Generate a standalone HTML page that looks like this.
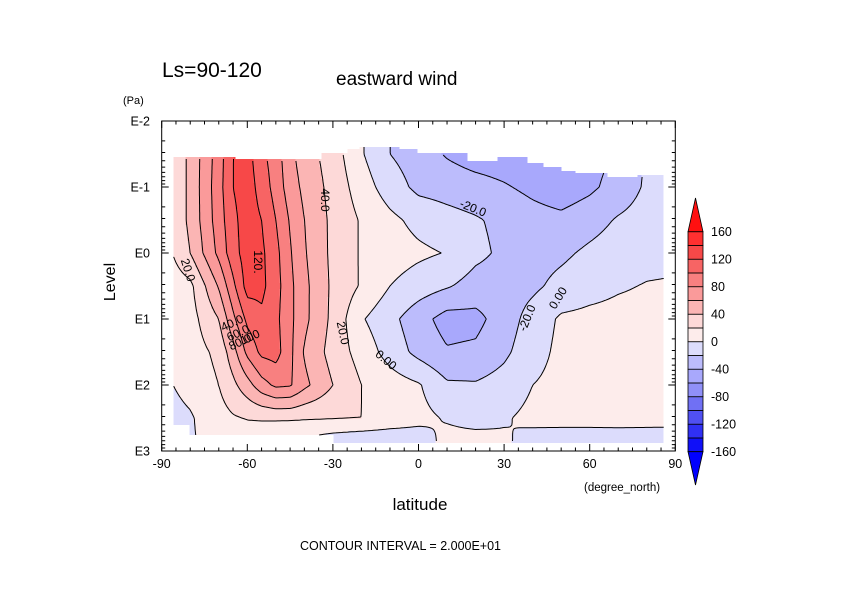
<!DOCTYPE html>
<html><head><meta charset="utf-8"><style>
html,body{margin:0;padding:0;background:#fff}
svg{display:block}
text{font-family:"Liberation Sans",sans-serif;fill:#000}
</style></head><body>
<svg id="chart" width="842" height="595" viewBox="0 0 842 595">
<rect width="842" height="595" fill="#fff"/>
<g id="fills"></g>
<g id="lines"></g>
<g id="clabels"></g>
<g id="axes"></g>
<g id="cbar"></g>
<text x="162" y="77" font-size="21">Ls=90-120</text>
<text x="336" y="85" font-size="19">eastward wind</text>
<text x="123" y="104" font-size="11">(Pa)</text>
<text x="0" y="0" font-size="16" transform="translate(115,282) rotate(-90)" text-anchor="middle">Level</text>
<text x="420" y="510" font-size="17" text-anchor="middle">latitude</text>
<text x="584" y="491" font-size="11.5">(degree_north)</text>
<text x="300" y="550" font-size="12.5">CONTOUR INTERVAL = 2.000E+01</text>
</svg>
<script>
// ---- data ----
const lats = [-90,-80,-70,-65,-60,-55,-50,-45,-40,-30,-20,-10,0,10,20,30,40,50,60,70,80,90];
const levels = [-1.5,-1,-0.5,0,0.5,1,1.5,2,2.5,3]; // log10(pressure Pa)
const uLm15 = [10,45,90,120,128,105,90,65,50,30,2,-20,-30,-42,-50,-52,-55,-52,-47,-38,-18,-12];
const uLm10 = [10,45,92,120,130,112,92,70,55,33,10,-10,-25,-28,-32,-38,-45,-52,-44,-32,-17,-12];
const uLm05 = [10,45,90,115,130,120,100,78,60,35,18,5,-6,-13,-18,-25,-32,-35,-28,-18,-12,-10];
const uL00 = [8,40,85,112,130,124,106,82,62,35,18,10,4,-1,-15,-24,-28,-24,-16,-10,-6,-5];
const uL05 = [5,15,62,95,128,125,108,85,65,36,18,0,-10,-18,-28,-30,-24,-14,-7,-2,1,2];
const uL10 = [5,12,40,75,105,116,105,85,65,35,2,-14,-32,-48,-46,-30,-12,3,5,6,6,5];
const uL15 = [3,10,25,52,85,105,108,85,58,32,12,-8,-26,-38,-36,-24,-8,5,6,6,6,5];
const uL20 = [-4,6,20,35,52,72,84,82,65,40,20,10,2,-17,-18,-12,0,6,7,6,6,5];
const uL25 = [-8,-2,12,18,21,22,23,23,22,21,20,12,6,-2,-8,-2,5,6,6,5,4,3];
const uL30 = [-10,-2,5,5,4,0,-10,-15,-15,-25,-30,-25,-18,10,15,5,-12,-15,-15,-12,-10,-8];
const rows = [uLm15,uLm10,uLm05,uL00,uL05,uL10,uL15,uL20,uL25,uL30];
// data coverage (top level per latitude segment, log10 Pa)
const maskLats = [-86,-64,-34,-24.7,-20.5,-6.3,0,17.5,28,38.5,44,50,55,66,77];
const maskTop = [-1.45,-1.41,-1.51,-1.575,-1.62,-1.575,-1.5,-1.39,-1.45,-1.35,-1.3,-1.24,-1.225,-1.15,-1.18];
const maskBotLats = [-86,-80,-30];
const maskBot = [2.6,2.76,2.87];
const latMax = 86;
const contourLevels = [-40,-20,0,20,40,60,80,100,120,140];
const cbarTicks = ['160','120','80','40','0','-40','-80','-120','-160'];
const xTickLabels = ['-90','-60','-30','0','30','60','90'];
const yTickLabels = ['E-2','E-1','E0','E1','E2','E3'];
const bandColors = ['#1010f8','#3030f4','#5050f2','#7070f4','#9090f8','#a8a8fc','#bcbcfc','#dcdcfc','#fdeceb','#fdd9d8','#fbb5b4','#fa9a9a','#f88080','#f76464','#f74848','#ff3030'];
const overColor = '#ff1010', underColor = '#0000ff';

// ---- axes functions ----
const X0=161.7, X1=675.3, Y0=121, DEC=66;
const xS = lat => X0 + (lat+90)*(X1-X0)/180;
const yS = L => Y0 + (L+2)*DEC;
const latOf = x => (x-X0)*180/(X1-X0) - 90;
const LOf = y => (y-Y0)/DEC - 2;
const NS='http://www.w3.org/2000/svg';
function mk(tag, attrs, parent){const e=document.createElementNS(NS,tag);for(const k in attrs)e.setAttribute(k,attrs[k]);parent.appendChild(e);return e;}

function idx(arr,v){let i=0;while(i<arr.length-2&&v>arr[i+1])i++;return i;}
function field(lat,L){
  const i=idx(lats,lat), j=idx(levels,L);
  let t=(lat-lats[i])/(lats[i+1]-lats[i]); let s=(L-levels[j])/(levels[j+1]-levels[j]);
  t=Math.max(0,Math.min(1,t)); s=Math.max(0,Math.min(1,s));
  const a=rows[j][i],b=rows[j][i+1],c=rows[j+1][i],d=rows[j+1][i+1];
  return (a*(1-t)+b*t)*(1-s)+(c*(1-t)+d*t)*s;
}
function segVal(ls,vs,lat){let k=0;for(let i=0;i<ls.length;i++)if(lat>=ls[i])k=i;return vs[k];}
function inside(lat,L){
  if(lat<maskLats[0]||lat>latMax)return false;
  return L>=segVal(maskLats,maskTop,lat) && L<=segVal(maskBotLats,maskBot,lat);
}
function band(v){return Math.floor(v/20)+8;}

// ---- fills ----
const STEP=2;
const nx=Math.ceil((X1-X0)/STEP), ny=Math.ceil((yS(3)-Y0)/STEP);
const bandPaths={};
const fillsG=document.getElementById('fills');
for(let j=0;j<ny;j++){
  const y=Y0+j*STEP, L=LOf(y+STEP/2);
  let runStart=null, runB=null;
  const flush=(endX)=>{ if(runB!==null){ (bandPaths[runB]=bandPaths[runB]||[]).push('M'+runStart.toFixed(1)+' '+y.toFixed(1)+'H'+endX.toFixed(1)+'V'+(y+STEP).toFixed(1)+'H'+runStart.toFixed(1)+'Z'); } };
  for(let i=0;i<nx;i++){
    const x=X0+i*STEP, lat=latOf(x+STEP/2);
    let b=null;
    if(inside(lat,L)) b=band(field(lat,L));
    if(b!==runB){ flush(x); runStart=x; runB=b; }
  }
  flush(Math.min(X0+nx*STEP,X1));
}
for(const b in bandPaths){
  const bi=+b;
  const col = bi>=16?overColor:(bi<0?underColor:bandColors[bi]);
  const p=mk('path',{d:bandPaths[b].join(''),fill:col,'shape-rendering':'crispEdges'},fillsG);
  
  
}

// ---- contour lines (marching squares) ----
const linesG=document.getElementById('lines');
const gx=[],gy=[],gv=[],gin=[];
for(let i=0;i<=nx;i++)gx.push(X0+i*STEP);
for(let j=0;j<=ny;j++)gy.push(Y0+j*STEP);
for(let j=0;j<=ny;j++){gv.push([]);gin.push([]);for(let i=0;i<=nx;i++){const la=latOf(gx[i]),L=LOf(gy[j]);gv[j].push(field(la,L));gin[j].push(inside(la,L));}}
contourLevels.forEach(lev=>{
  let d='';
  for(let j=0;j<ny;j++)for(let i=0;i<nx;i++){
    if(!(gin[j][i]&&gin[j][i+1]&&gin[j+1][i]&&gin[j+1][i+1]))continue;
    const v=[gv[j][i],gv[j][i+1],gv[j+1][i+1],gv[j+1][i]];
    const P=[[gx[i],gy[j]],[gx[i+1],gy[j]],[gx[i+1],gy[j+1]],[gx[i],gy[j+1]]];
    const pts=[];
    for(let e=0;e<4;e++){const a=v[e],b=v[(e+1)%4];
      if((a<lev)!==(b<lev)){const t=(lev-a)/(b-a);const A=P[e],B=P[(e+1)%4];pts.push([A[0]+(B[0]-A[0])*t,A[1]+(B[1]-A[1])*t]);}}
    for(let k=0;k+1<pts.length;k+=2)d+='M'+pts[k][0].toFixed(1)+' '+pts[k][1].toFixed(1)+'L'+pts[k+1][0].toFixed(1)+' '+pts[k+1][1].toFixed(1);
  }
  const p=mk('path',{d:d,fill:'none',stroke:'#000','stroke-width':'1'},linesG);
  
  
});

// ---- contour labels ----
const cl=document.getElementById('clabels');
[['20.0',188,270,72],['40.0',325,200,90],['120.',258,262,90],['20.0',343,333,78],['0.00',386,360,40],['-20.0',473,208,22],['-20.0',527,318,-68],['0.00',558,298,-58],
 ['40.0',232,323,-25],['60.0',238,333,-25],['80.0',240,342,-25],['100',250,337,-25]].forEach(a=>{
  const t=mk('text',{x:0,y:0,'font-size':'12','text-anchor':'middle','dominant-baseline':'central',transform:`translate(${a[1]},${a[2]}) rotate(${a[3]})`},cl);
  t.textContent=a[0];
  
  
});

// ---- axes ----
const ax=document.getElementById('axes');
const fr=mk('rect',{x:X0,y:Y0,width:X1-X0,height:yS(3)-Y0,fill:'none',stroke:'#000','stroke-width':'1'},ax);


let td='';
const YB=yS(3);
for(let lat=-90;lat<=90;lat+=5){const x=xS(lat);const len=lat%30===0?7:3.5;td+=`M${x} ${YB}v${-len}M${x} ${Y0}v${len}`;}
for(let dec=-2;dec<3;dec++){for(let m=1;m<10;m++){const y=yS(dec+Math.log10(m));const len=m===1?7:3.5;td+=`M${X0} ${y}h${len}M${X1} ${y}h${-len}`;}}
const tk=mk('path',{d:td,stroke:'#000','stroke-width':'1',fill:'none'},ax);


xTickLabels.forEach((s,k)=>{const t=mk('text',{x:xS(-90+30*k),y:468,'font-size':'12.5','text-anchor':'middle'},ax);t.textContent=s;
  
  });
yTickLabels.forEach((s,k)=>{const t=mk('text',{x:150,y:yS(-2+k)+4.5,'font-size':'12.5','text-anchor':'end'},ax);t.textContent=s;
  
  });

// ---- colorbar ----
const cb=document.getElementById('cbar');
const CX0=688, CX1=703, CT=231.7, CBt=451.7, bh=(CBt-CT)/16;
for(let k=0;k<16;k++){
  const r=mk('rect',{x:CX0,y:CT+(15-k)*bh,width:CX1-CX0,height:bh,fill:bandColors[k],stroke:'#000','stroke-width':'0.8'},cb);
  
  
}
const up=mk('path',{d:`M${CX0} ${CT}L${(CX0+CX1)/2} 198L${CX1} ${CT}Z`,fill:overColor,stroke:'#000','stroke-width':'0.8'},cb);


const dn=mk('path',{d:`M${CX0} ${CBt}L${(CX0+CX1)/2} 485L${CX1} ${CBt}Z`,fill:underColor,stroke:'#000','stroke-width':'0.8'},cb);


cbarTicks.forEach((s,k)=>{const t=mk('text',{x:711,y:CT+k*2*bh+4.5,'font-size':'12.5'},cb);t.textContent=s;
  
  });
</script>
</body></html>
